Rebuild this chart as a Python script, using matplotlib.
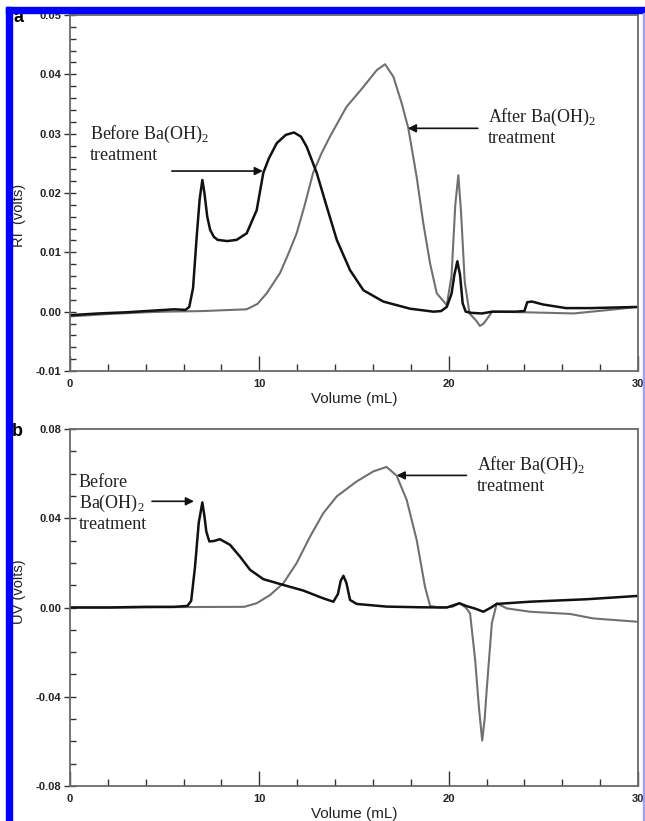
import matplotlib
matplotlib.use("Agg")
import matplotlib.pyplot as plt
from matplotlib.ticker import MultipleLocator, FormatStrFormatter
from matplotlib.patches import Rectangle

plt.rcParams['axes.unicode_minus'] = False
plt.rcParams['font.family'] = ['Liberation Sans', 'DejaVu Sans']
plt.rcParams['mathtext.fontset'] = 'custom'
plt.rcParams['mathtext.rm'] = 'Liberation Serif'

# ---------------- data ----------------
ri_before_x = [0, 1.5, 3, 4.5, 5.5, 6.1, 6.3, 6.5, 6.7, 6.85, 6.99, 7.1, 7.25, 7.4, 7.6, 7.8, 8.3, 8.8,
               9.33, 9.86, 10.21, 10.5, 10.92, 11.4, 11.83, 12.2, 12.5, 13.03, 13.56, 14.09, 14.79, 15.5,
               16.55, 17.96, 19.2, 19.6, 19.9, 20.15, 20.3, 20.46, 20.6, 20.74, 20.9, 21.2, 21.75, 22.3,
               23.5, 24.0, 24.15, 24.4, 25.0, 26.2, 27.5, 30]
ri_before_y = [-0.0006, -0.0003, -0.0001, 0.0002, 0.0004, 0.0003, 0.0008, 0.004, 0.013, 0.019, 0.0222,
               0.020, 0.016, 0.0138, 0.0126, 0.0121, 0.0119, 0.0121, 0.0132, 0.0171, 0.0234, 0.0258,
               0.0284, 0.0298, 0.0302, 0.0295, 0.0278, 0.0234, 0.0177, 0.0121, 0.0070, 0.0036, 0.0017,
               0.0005, 0.0, 0.0001, 0.0008, 0.003, 0.0062, 0.0085, 0.0062, 0.0014, 0.0, -0.0002, -0.0003,
               0.0, 0.0, 0.0001, 0.0016, 0.0017, 0.0012, 0.0006, 0.0006, 0.0008]

ri_after_x = [0, 2, 4, 5, 7, 9.33, 9.9, 10.39, 11.09, 11.5, 11.97, 12.4, 12.84, 13.3, 13.73, 14.6, 15.5,
              16.2, 16.64, 17.08, 17.52, 17.87, 18.31, 18.66, 19.02, 19.37, 19.9, 20.15, 20.35, 20.51,
              20.65, 20.85, 21.1, 21.45, 21.65, 21.85, 22.3, 24, 26.6, 28.5, 30]
ri_after_y = [-0.0008, -0.0004, -0.0001, 0.0, 0.0001, 0.0004, 0.0013, 0.0031, 0.0065, 0.0095, 0.0132,
              0.018, 0.0234, 0.0268, 0.0295, 0.0345, 0.0379, 0.0407, 0.0417, 0.0396, 0.0351, 0.0309,
              0.0227, 0.0149, 0.0081, 0.0031, 0.0011, 0.006, 0.018, 0.023, 0.017, 0.005, -0.0003,
              -0.0015, -0.0024, -0.002, 0.0, -0.0001, -0.0003, 0.0003, 0.0008]

uv_before_x = [0, 2, 4, 5.5, 6.2, 6.4, 6.6, 6.8, 6.99, 7.1, 7.2, 7.36, 7.6, 7.92, 8.45, 8.98, 9.51,
               10.21, 11.27, 12.32, 13.38, 13.91, 14.15, 14.3, 14.44, 14.6, 14.79, 15.14, 16.72, 18.5,
               19.9, 20.57, 20.95, 21.4, 21.83, 22.2, 22.54, 24.3, 27.29, 30]
uv_before_y = [0.0, 0.0, 0.0003, 0.0003, 0.0007, 0.003, 0.018, 0.038, 0.0471, 0.041, 0.034, 0.0296,
               0.0298, 0.0306, 0.0281, 0.0228, 0.0169, 0.0127, 0.0101, 0.0076, 0.0041, 0.0026, 0.006,
               0.012, 0.0142, 0.011, 0.0034, 0.0016, 0.0004, 0.0001, 0.0, 0.0019, 0.0006, -0.0005,
               -0.0019, -0.0002, 0.0016, 0.0026, 0.0037, 0.0052]

uv_after_x = [0, 3, 6, 9.2, 9.86, 10.57, 11.27, 11.97, 12.68, 13.38, 14.09, 15.14, 16.02, 16.72, 17.25,
              17.78, 18.31, 18.75, 19.02, 19.5, 20.2, 20.57, 20.9, 21.13, 21.4, 21.6, 21.77, 21.9, 22.02,
              22.28, 22.54, 23.07, 24.3, 26.41, 27.64, 30]
uv_after_y = [0.0, 0.0, 0.0002, 0.0003, 0.0019, 0.0056, 0.0109, 0.0199, 0.0318, 0.0423, 0.0498, 0.0565,
              0.0610, 0.0630, 0.0591, 0.0483, 0.0303, 0.0093, 0.0007, 0.0, 0.0003, 0.0019, 0.0, -0.0026,
              -0.0236, -0.045, -0.0596, -0.05, -0.0356, -0.0071, 0.0019, -0.0004, -0.0019, -0.0029,
              -0.0049, -0.0064]

label_before = "Before Ba(OH)$_\\mathregular{2}$\ntreatment"
label_before_b = "Before\nBa(OH)$_\\mathregular{2}$\ntreatment"
label_after = "After Ba(OH)$_\\mathregular{2}$\ntreatment"

BLACK = '#111111'
GRAY = '#707070'
SPINE = '#6a6a6a'

W, H = 645, 821
fig = plt.figure(figsize=(W / 100, H / 100), dpi=100)
left = 70 / W
width = 568 / W
ax_a = fig.add_axes([left, 1 - 371 / H, width, 356 / H])
ax_b = fig.add_axes([left, 1 - 786 / H, width, 357 / H])


def style(ax, ylim, ymaj, ymin):
    ax.set_xlim(0, 30)
    ax.set_ylim(*ylim)
    ax.xaxis.set_major_locator(MultipleLocator(10))
    ax.xaxis.set_minor_locator(MultipleLocator(2))
    ax.yaxis.set_major_locator(MultipleLocator(ymaj))
    ax.yaxis.set_minor_locator(MultipleLocator(ymin))
    ax.yaxis.set_major_formatter(FormatStrFormatter('%.2f'))
    for s in ax.spines.values():
        s.set_color(SPINE)
        s.set_linewidth(1.3)
    ax.tick_params(axis='x', which='major', direction='in', length=11, width=1.0,
                   color='#333333', labelsize=8, pad=6, labelcolor='#222222')
    ax.tick_params(axis='x', which='minor', direction='in', length=5, width=1.0, color='#333333')
    ax.tick_params(axis='y', which='major', direction='inout', length=9, width=1.0,
                   color='#333333', labelsize=8, pad=2, labelcolor='#222222')
    ax.tick_params(axis='y', which='minor', direction='in', length=4, width=1.0, color='#333333')
    for t in ax.get_xticklabels() + ax.get_yticklabels():
        t.set_fontweight('bold')
    ax.set_xlabel('Volume (mL)', fontsize=11, labelpad=2, color='#222222')


style(ax_a, (-0.01, 0.05), 0.01, 0.002)
style(ax_b, (-0.08, 0.08), 0.04, 0.01)

ax_a.plot(ri_after_x, ri_after_y, color=GRAY, lw=1.5)
ax_a.plot(ri_before_x, ri_before_y, color=BLACK, lw=1.8)
ax_b.plot(uv_after_x, uv_after_y, color=GRAY, lw=1.5)
ax_b.plot(uv_before_x, uv_before_y, color=BLACK, lw=1.8)

fig.text(19.5 / W, 1 - 215 / H, 'RI  (volts)', rotation=90, ha='center', va='center',
         fontsize=10.5, color='#222222')
fig.text(19.5 / W, 1 - 592 / H, 'UV (volts)', rotation=90, ha='center', va='center',
         fontsize=10.5, color='#222222')
fig.text(13 / W, 1 - 18 / H, 'a', fontsize=13, fontweight='bold', ha='left', va='center')
fig.text(12 / W, 1 - 431 / H, 'b', fontsize=13, fontweight='bold', ha='left', va='center')

serif = ['Liberation Serif', 'DejaVu Serif']
arrow_kw = dict(arrowstyle='-|>', color='#111111', lw=1.2, mutation_scale=12, shrinkA=0, shrinkB=0)

ax_a.text(1.05, 0.0283, label_before, family=serif, fontsize=13, ha='left', va='center',
          linespacing=1.15, color='#222222')
ax_a.annotate('', xy=(10.19, 0.0237), xytext=(5.38, 0.0237), arrowprops=arrow_kw)
ax_a.text(22.07, 0.0311, label_after, family=serif, fontsize=13, ha='left', va='center',
          linespacing=1.15, color='#222222')
ax_a.annotate('', xy=(17.84, 0.0309), xytext=(21.54, 0.0309), arrowprops=arrow_kw)

ax_b.text(0.475, 0.0467, label_before_b, family=serif, fontsize=13, ha='left', va='center',
          linespacing=1.15, color='#222222')
ax_b.annotate('', xy=(6.55, 0.0476), xytext=(4.33, 0.0476), arrowprops=arrow_kw)
ax_b.text(21.49, 0.0593, label_after, family=serif, fontsize=13, ha='left', va='center',
          linespacing=1.15, color='#222222')
ax_b.annotate('', xy=(17.25, 0.0592), xytext=(20.94, 0.0592), arrowprops=arrow_kw)

# blue frame
fig.patches.append(Rectangle((6 / W, 0), 6 / W, 1 - 7 / H, transform=fig.transFigure,
                             color='#0000ff', zorder=20))
fig.patches.append(Rectangle((6 / W, 1 - 13 / H), 1 - 6 / W, 6 / H, transform=fig.transFigure,
                             color='#0000ff', zorder=20))
fig.patches.append(Rectangle((642.5 / W, 0), 1.2 / W, 1 - 13 / H, transform=fig.transFigure,
                             color='#9f9fff', zorder=20))

fig.savefig('out.png', dpi=100)
